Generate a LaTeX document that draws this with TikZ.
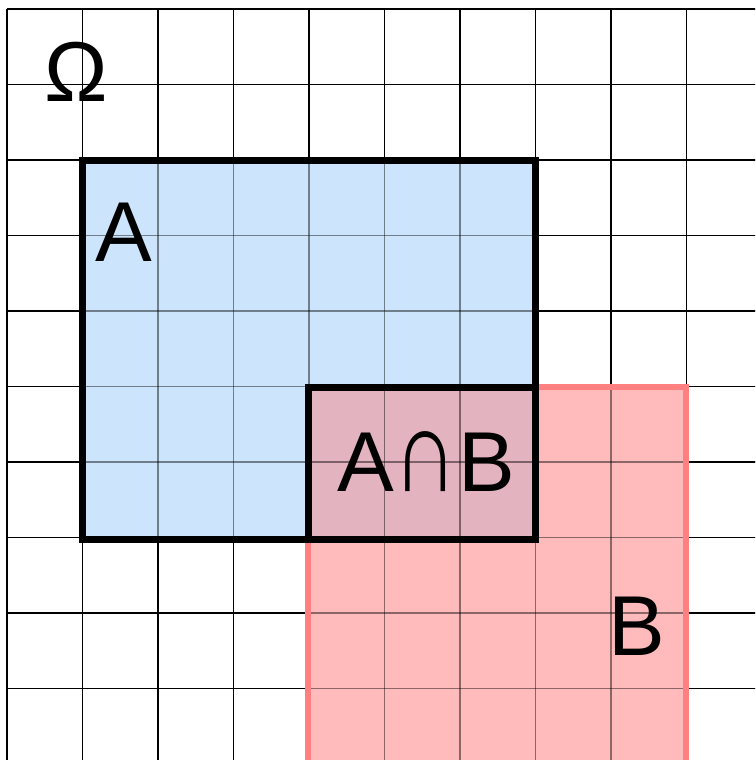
\documentclass[tikz,border=0pt]{standalone}
\usepackage{fontspec}
\usepackage{graphicx}
\setmainfont{Liberation Sans}
\definecolor{setA}{HTML}{CCE4FC}
\definecolor{setB}{HTML}{FFBBBB}
\definecolor{setAB}{HTML}{E3B3BF}
\definecolor{bline}{HTML}{FF8080}
\begin{document}
\begin{tikzpicture}[x=1pt,y=-1pt,
  gridline/.style={line width=1.1pt,black},
  gridover/.style={line width=1.1pt,black,opacity=0.45},
  bigtext/.style={inner sep=0pt,font=\fontsize{85}{90}\selectfont}]
\useasboundingbox (0,0) rectangle (755,760);
\clip (0,0) rectangle (755,760);
% grid underneath
\foreach \k in {0,...,9} {
  \draw[gridline] ({7+75.5*\k},9) -- ({7+75.5*\k},770);
  \draw[gridline] (7,{9+75.5*\k}) -- (770,{9+75.5*\k});
}
% fills
\fill[setB] (308,387) rectangle (686,775);
\fill[setA] (82,160) rectangle (535,539);
\fill[setAB] (308,387) rectangle (535,539);
% grid over fills
\foreach \k in {0,...,9} {
  \draw[gridover] ({7+75.5*\k},9) -- ({7+75.5*\k},770);
  \draw[gridover] (7,{9+75.5*\k}) -- (770,{9+75.5*\k});
}
% borders
\draw[bline,line width=6pt] (308,780) -- (308,387) -- (686,387) -- (686,780);
\draw[black,line width=7pt,line join=miter] (82,160) rectangle (535,539);
\draw[black,line width=7pt,line join=miter] (308,387) rectangle (535,539);
% labels
\node[bigtext] (omega) at (76,72) {Ω};
\node[bigtext] (la) at (124,232) {A};
\node[bigtext] (lab) at (426,462) {A\scalebox{1.05}[1.4]{∩}B};
\node[bigtext] (lb) at (637,626) {B};
\end{tikzpicture}
\end{document}
